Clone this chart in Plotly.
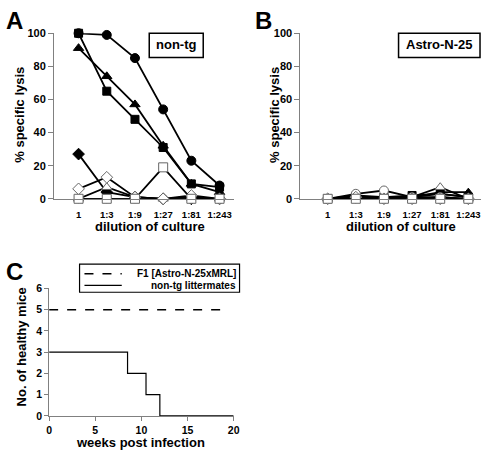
import plotly.graph_objects as go

W, H = 487, 456

# ---------------- data ----------------
dilutions = ["1", "1:3", "1:9", "1:27", "1:81", "1:243"]

# Panel A (non-tg)
a_filled_circle = [100, 99, 85, 54, 23, 8]
a_filled_triangle = [91, 74, 57, 32, 9, 4]
a_filled_square = [100, 65, 48, 31, 9, 7]
a_filled_diamond = [27, 4, 1, 0, 0, 0]
a_open_diamond = [6, 13, 1, 0, 2, 0]
a_open_triangle = [0, 7, 1, 0, 1, 0]
a_open_square = [0, 0, 0, 19, 0, 0]
a_open_circle = [0, 0, 0, 0, 0, 0]

# Panel B (Astro-N-25)
b_filled_circle = [0, 0, 1, 1, 3, 1]
b_filled_triangle = [0, 1, 1, 1, 4, 4]
b_filled_square = [0, 1, 1, 2, 3, 1]
b_filled_diamond = [0, 1, 0, 0, 1, 0]
b_open_diamond = [0, 1, 0, 0, 0, 0]
b_open_triangle = [0, 2, 1, 1, 7, 0]
b_open_square = [0, 0, 0, 0, 0, 0]
b_open_circle = [0, 3, 5, 1, 1, 0]

# Panel C
f1_weeks = [0, 19.5]
f1_healthy = [5, 5]
nontg_weeks = [0, 8.5, 10.5, 12, 20]
nontg_healthy = [3, 2, 1, 0, 0]

xidx = list(range(len(dilutions)))

FONT = "Liberation Sans, Arial, sans-serif"
AX = "#808080"

fig = go.Figure()


def add_series(vals, symbol, filled, xa, ya, size=8):
    fig.add_trace(go.Scatter(
        x=xidx, y=vals, xaxis=xa, yaxis=ya, mode="lines+markers",
        line=dict(color="black", width=1.8),
        marker=dict(symbol=symbol, size=size,
                    color="black" if filled else "white",
                    line=dict(color="black" if filled else "#666666", width=1)),
        cliponaxis=False, showlegend=False))


for xa, ya, series in [
    ("x", "y", [
        (a_filled_diamond, "diamond", True, 9),
        (a_filled_square, "square", True, 8),
        (a_filled_triangle, "triangle-up", True, 9),
        (a_filled_circle, "circle", True, 9),
        (a_open_circle, "circle", False, 8),
        (a_open_triangle, "triangle-up", False, 9),
        (a_open_diamond, "diamond", False, 9),
        (a_open_square, "square", False, 9),
    ]),
    ("x2", "y2", [
        (b_filled_diamond, "diamond", True, 8),
        (b_filled_circle, "circle", True, 8),
        (b_filled_square, "square", True, 8),
        (b_filled_triangle, "triangle-up", True, 8),
        (b_open_triangle, "triangle-up", False, 9),
        (b_open_circle, "circle", False, 9),
        (b_open_diamond, "diamond", False, 9),
        (b_open_square, "square", False, 9),
    ]),
]:
    for vals, sym, filled, sz in series:
        add_series(vals, sym, filled, xa, ya, sz)

fig.add_trace(go.Scatter(x=f1_weeks, y=f1_healthy, xaxis="x3", yaxis="y3",
                         mode="lines", line=dict(color="black", width=1.5, dash="dash"),
                         showlegend=False, cliponaxis=False))
fig.add_trace(go.Scatter(x=nontg_weeks, y=nontg_healthy, xaxis="x3", yaxis="y3",
                         mode="lines", line=dict(color="black", width=1.2, shape="hv"),
                         showlegend=False, cliponaxis=False))


def px(x):
    return x / W


def py(y):
    return 1 - y / H


xtickfont = dict(family=FONT, size=9.5, color="black", weight="bold")
ytickfont = dict(family=FONT, size=11, color="black", weight="bold")
ctickfont = dict(family=FONT, size=10.5, color="black", weight="bold")

cat_x = dict(tickmode="array", tickvals=xidx, ticktext=dilutions, showgrid=False,
             zeroline=False, showline=True, linecolor=AX, linewidth=1, tickangle=0,
             ticks="outside", ticklen=7, tickcolor="rgba(0,0,0,0)",
             tickfont=xtickfont, fixedrange=True)
pct_y = dict(range=[0, 100], tickvals=[0, 20, 40, 60, 80, 100], showgrid=False,
             zeroline=False, showline=True, linecolor=AX, linewidth=1,
             ticks="outside", ticklen=5, tickcolor=AX, tickfont=ytickfont)

fig.update_layout(
    width=W, height=H, margin=dict(l=0, r=0, t=0, b=0),
    paper_bgcolor="white", plot_bgcolor="white",
    xaxis=dict(cat_x, domain=[px(52), px(235)], range=[-0.87, 5.5], anchor="y"),
    yaxis=dict(pct_y, domain=[py(198), py(28)], anchor="x"),
    xaxis2=dict(cat_x, domain=[px(303), px(487)], range=[-0.97, 5.45], anchor="y2"),
    yaxis2=dict(pct_y, domain=[py(198), py(28)], anchor="x2"),
    xaxis3=dict(domain=[px(47), px(235)], range=[0, 20], tickvals=[0, 5, 10, 15, 20],
                showgrid=False, zeroline=False, showline=True, linecolor=AX, tickangle=0,
                ticks="outside", ticklen=4, tickcolor=AX, tickfont=ctickfont, anchor="y3"),
    yaxis3=dict(domain=[py(421), py(290)], range=[0, 6], tickvals=[0, 1, 2, 3, 4, 5, 6],
                showgrid=False, zeroline=False, showline=True, linecolor=AX,
                ticks="outside", ticklen=4, tickcolor=AX, tickfont=ctickfont, anchor="x3"),
)

ann = []


def text(x, y, s, size, xanchor="center", angle=0):
    ann.append(dict(x=px(x), y=py(y), xref="paper", yref="paper", text=s,
                    showarrow=False, xanchor=xanchor, yanchor="middle", textangle=angle,
                    font=dict(family=FONT, size=size, color="black", weight="bold")))


text(1, 15, "A", 24, "left")
text(255, 15, "B", 24, "left")
text(1, 273, "C", 24, "left")

text(16, 112, "% specific lysis", 13, angle=-90)
text(276, 112, "% specific lysis", 13, angle=-90)
text(150, 226, "dilution of culture", 13)
text(405, 226, "dilution of culture", 13)
text(19, 350, "No. of healthy mice", 13, angle=-90)
text(140, 448, "weeks post infection", 13)

text(176, 40, "non-tg", 13)
text(444, 40, "Astro-N-25", 13)

text(239, 275, "F1 [Astro-N-25xMRL]", 10, "right")
text(239, 287, "non-tg littermates", 10, "right")

fig.update_layout(annotations=ann)

shapes = []
for x0, x1 in [(149, 204), (403, 486)]:
    shapes.append(dict(type="rect", xref="paper", yref="paper",
                       x0=px(x0), x1=px(x1), y0=py(53), y1=py(28),
                       line=dict(color="black", width=1.5)))
shapes.append(dict(type="rect", xref="paper", yref="paper",
                   x0=px(78), x1=px(241), y0=py(294), y1=py(265),
                   line=dict(color="black", width=1.2)))
shapes.append(dict(type="line", xref="paper", yref="paper",
                   x0=px(83), x1=px(121), y0=py(275), y1=py(275),
                   line=dict(color="black", width=1.5, dash="dash")))
shapes.append(dict(type="line", xref="paper", yref="paper",
                   x0=px(83), x1=px(121), y0=py(287), y1=py(287),
                   line=dict(color="black", width=1.2)))
fig.update_layout(shapes=shapes)

fig.write_html("out.html", config={"displayModeBar": False},
               post_script="document.body.style.margin='0';document.body.style.overflow='hidden';")
